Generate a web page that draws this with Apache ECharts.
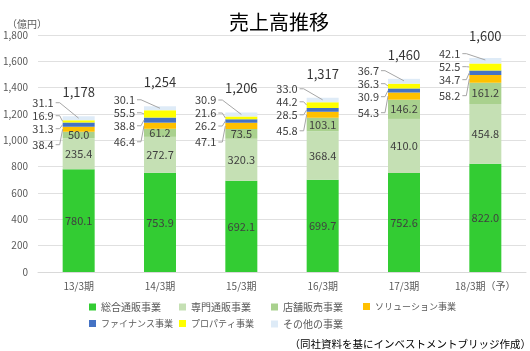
<!DOCTYPE html>
<html>
<head>
<meta charset="utf-8">
<script src="https://cdn.jsdelivr.net/npm/echarts@6/dist/echarts.min.js"></script>
<style>
  body { margin: 0; background: #fff; }
  #chart { width: 530px; height: 351px; }
</style>
</head>
<body>
<div id="chart"></div>
<script>
// 売上高推移（億円）
const categories = ['13/3期', '14/3期', '15/3期', '16/3期', '17/3期', '18/3期（予）'];
const seriesNames = ['総合通販事業', '専門通販事業', '店舗販売事業', 'ソリューション事業', 'ファイナンス事業', 'プロパティ事業', 'その他の事業'];
const sogo = [780.1, 753.9, 692.1, 699.7, 752.6, 822.0];
const senmon = [235.4, 272.7, 320.3, 368.4, 410.0, 454.8];
const tenpo = [50.0, 61.2, 73.5, 103.1, 146.2, 161.2];
const solution = [38.4, 46.4, 47.1, 45.8, 54.3, 58.2];
const finance = [31.3, 38.8, 26.2, 28.5, 30.9, 34.7];
const property = [16.9, 55.5, 21.6, 44.2, 36.3, 52.5];
const other = [31.1, 30.1, 30.9, 33.0, 36.7, 42.1];
const totals = [1178, 1254, 1206, 1317, 1460, 1600];
const yTicks = [0, 200, 400, 600, 800, 1000, 1200, 1400, 1600, 1800];

const allData = [sogo, senmon, tenpo, solution, finance, property, other];
const smallData = [solution, finance, property, other];
const colors = ['#33CC33', '#C5E0B4', '#A9D18E', '#FFC000', '#4472C4', '#FFFF00', '#DEEBF7'];
const font = '"Noto Sans CJK JP", "Noto Sans", sans-serif';
const BAR_W = 32;

// 小さい系列のラベルは店舗販売の上端からずらして左に並べる（引き出し線付き）
const smallOffsets = [13, -3, -16, -29];
const base3 = categories.map((c, i) => sogo[i] + senmon[i] + tenpo[i]);

const series = allData.map(function (data, k) {
  return {
    name: seriesNames[k],
    type: 'bar',
    stack: 'total',
    data: data,
    barWidth: BAR_W,
    itemStyle: { color: colors[k] },
    label: {
      show: k < 3,
      position: 'inside',
      color: '#404040',
      fontSize: 11,
      fontFamily: font,
      formatter: p => p.value.toFixed(1)
    }
  };
});

// 引き出し線ラベル
series.push({
  name: 'leader',
  type: 'custom',
  silent: true,
  z: 5,
  data: categories.map((c, i) => [i, base3[i]]),
  renderItem: function (params, api) {
    const i = params.dataIndex;
    const center = api.coord([i, 0])[0];
    const left = center - BAR_W / 2;
    const baseY = api.coord([i, base3[i]])[1];
    const children = [];
    let cum = base3[i];
    smallData.forEach(function (data, k) {
      const lo = cum;
      const hi = cum + data[i];
      cum = hi;
      const lx = left - 9;
      const ly = baseY + smallOffsets[k];
      let tx, ty;
      if (k === 3) {
        tx = center;
        ty = api.coord([i, hi])[1] + 2;
      } else {
        tx = left;
        ty = api.coord([i, (lo + hi) / 2])[1];
      }
      children.push({
        type: 'polyline',
        shape: { points: [[lx + 2, ly], [lx + 6, ly], [tx, ty]] },
        style: { stroke: '#a6a6a6', lineWidth: 1, fill: null }
      });
      children.push({
        type: 'text',
        style: {
          text: data[i].toFixed(1),
          x: lx,
          y: ly,
          align: 'right',
          verticalAlign: 'middle',
          fill: '#404040',
          fontSize: 11,
          fontFamily: font
        }
      });
    });
    return { type: 'group', children: children };
  }
});

// 合計ラベル
series.push({
  name: 'total',
  type: 'scatter',
  data: totals,
  symbolSize: 1,
  itemStyle: { color: 'rgba(0,0,0,0)' },
  silent: true,
  label: {
    show: true,
    position: 'top',
    distance: 18,
    color: '#000',
    fontSize: 13,
    fontFamily: font,
    formatter: p => p.value.toLocaleString('en-US')
  }
});

// 凡例の配置（列, 行）
const legendCols = [84, 174, 266, 358];
const legendRows = [297, 314];
const legendPos = [[0, 0], [1, 0], [2, 0], [3, 0], [0, 1], [1, 1], [2, 1]];
const legendFont = [10, 10, 10, 9, 9, 9, 10];
const legends = seriesNames.map(function (name, k) {
  return {
    data: [name],
    left: legendCols[legendPos[k][0]],
    top: legendRows[legendPos[k][1]],
    icon: 'rect',
    itemWidth: 7,
    itemHeight: 7,
    selectedMode: false,
    textStyle: { color: '#595959', fontSize: legendFont[k], fontFamily: font }
  };
});

const chart = echarts.init(document.getElementById('chart'));
chart.setOption({
  animation: false,
  textStyle: { fontFamily: font },
  title: [
    {
      text: '売上高推移',
      left: 224,
      top: 7,
      textStyle: { color: '#000', fontSize: 20, fontWeight: 'normal', fontFamily: font }
    },
    {
      text: '（億円）',
      left: 2,
      top: 14,
      textStyle: { color: '#595959', fontSize: 10, fontWeight: 'normal', fontFamily: font }
    },
    {
      text: '（同社資料を基にインベストメントブリッジ作成）',
      right: -6,
      top: 334,
      textStyle: { color: '#000', fontSize: 10.5, fontWeight: 'normal', fontFamily: font }
    }
  ],
  legend: legends,
  grid: { left: 38, right: 4, top: 35, bottom: 79 },
  xAxis: {
    type: 'category',
    data: categories,
    axisTick: { show: false },
    axisLine: { lineStyle: { color: '#d9d9d9' } },
    axisLabel: { color: '#595959', fontSize: 10, margin: 9, fontFamily: font }
  },
  yAxis: {
    type: 'value',
    min: yTicks[0],
    max: yTicks[yTicks.length - 1],
    interval: yTicks[1] - yTicks[0],
    axisLine: { show: false },
    axisTick: { show: false },
    splitLine: { lineStyle: { color: '#e0e0e0', width: 1 } },
    axisLabel: {
      color: '#595959',
      fontSize: 10,
      margin: 10,
      fontFamily: font,
      formatter: v => v.toLocaleString('en-US')
    }
  },
  series: series
});
</script>
</body>
</html>
